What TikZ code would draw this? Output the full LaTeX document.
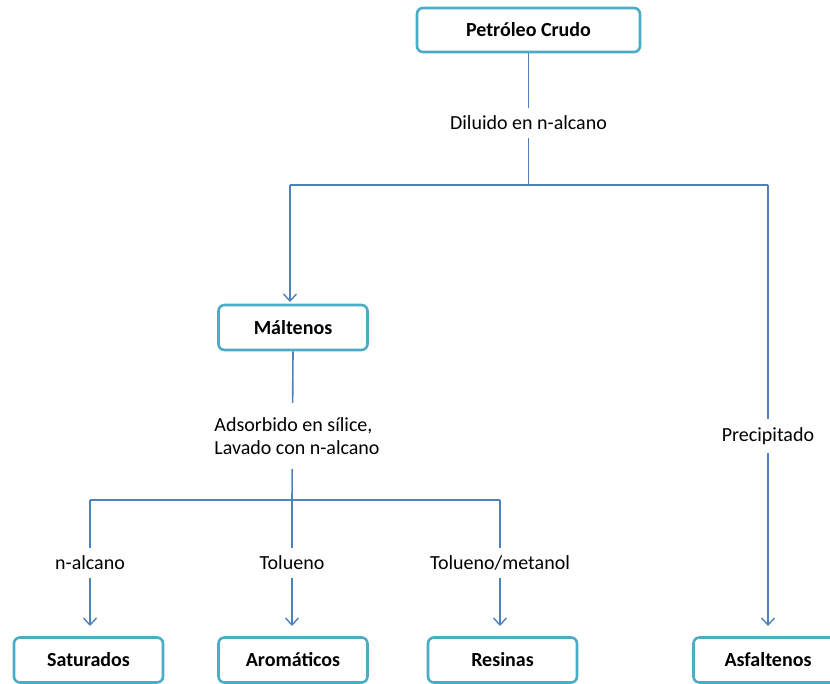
\documentclass[tikz,border=0pt]{standalone}
\usepackage{fontspec}
\setmainfont{Carlito}
\usetikzlibrary{arrows.meta}
\definecolor{boxc}{RGB}{75,172,198}
\definecolor{linec}{RGB}{79,129,189}
\begin{document}
\begin{tikzpicture}[x=1pt,y=-1pt,
  box/.style={draw=boxc,line width=2.6pt,rounded corners=6pt,fill=white,minimum width=149pt,minimum height=45pt,font=\fontsize{20}{24}\selectfont\bfseries,inner sep=0pt},
  conn/.style={draw=linec,line width=1.6pt},
  arr/.style={conn,-{Straight Barb[length=7pt,width=13pt,line width=1.4pt]}},
  lab/.style={fill=white,font=\fontsize{20}{23}\selectfont,align=left,inner xsep=3pt,inner ysep=8pt}]
\useasboundingbox (0,0) rectangle (830,684);
\node[box,minimum width=223pt,minimum height=44pt] (pc) at (528.5,30) {Petróleo Crudo};
\node[box] (mal) at (293,327.5) {Máltenos};
\node[box] (sat) at (88.5,660) {Saturados};
\node[box] (aro) at (293,660) {Aromáticos};
\node[box] (res) at (502.5,660) {Resinas};
\node[box] (asf) at (768,660) {Asfaltenos};
\coordinate (j1) at (528.5,185);
\coordinate (j1l) at (290,185);
\coordinate (j1r) at (768,185);
\coordinate (j2) at (292,500);
\coordinate (j2l) at (90,500);
\coordinate (j2r) at (500,500);
\draw[conn] (pc.south) -- (j1);
\draw[conn] (j1l) -- (j1r);
\draw[arr] (j1l) -- ++(0,117);
\draw[arr] (j1r) -- (768,626);
\draw[conn] (mal.south) -- (j2);
\draw[conn] (j2l) -- (j2r);
\draw[arr] (j2l) -- (90,626);
\draw[arr] (j2) -- (292,626);
\draw[arr] (j2r) -- (500,626);
\node[lab] (l1) at (528.5,123) {Diluido en n-alcano};
\node[lab,inner ysep=14pt] (l2) at (297,436) {Adsorbido en sílice,\\Lavado con n-alcano};
\node[lab] (l3) at (768,436) {Precipitado};
\node[lab] (l4) at (90,563) {n-alcano};
\node[lab] (l5) at (292,563) {Tolueno};
\node[lab] (l6) at (500,563) {Tolueno/metanol};
\end{tikzpicture}
\end{document}
